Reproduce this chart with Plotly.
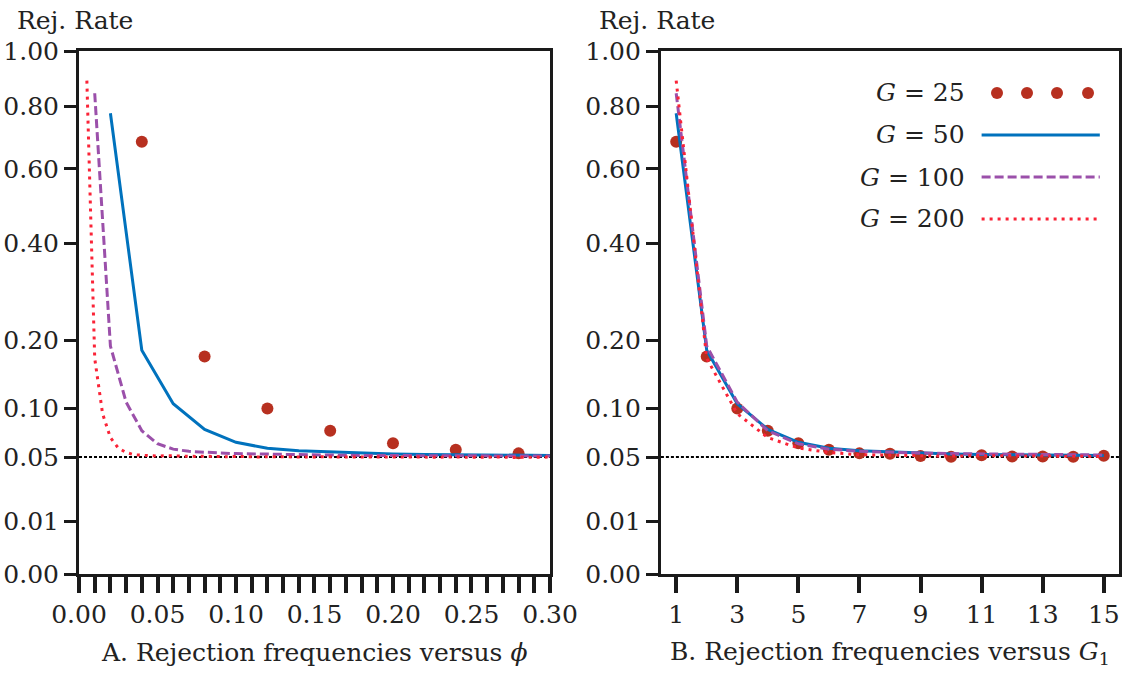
import numpy as np
import plotly.graph_objects as go

# ---------------- data (rejection rates by G1, for each G) ----------------
G_VALUES = [25, 50, 100, 200]
NOMINAL = 0.05

REJ_G25 = [0.683, 0.173, 0.100, 0.075, 0.0625, 0.0565, 0.0532, 0.0528, 0.0508, 0.0503,
           0.0515, 0.0505, 0.0505, 0.0502, 0.0512]
REJ_G50 = [0.776, 0.183, 0.106, 0.0765, 0.0634, 0.0578, 0.0556, 0.0545, 0.0536, 0.0527,
           0.0522, 0.0519, 0.0517, 0.0515, 0.0514]
REJ_G100 = [0.845, 0.190, 0.108, 0.075, 0.062, 0.057, 0.055, 0.054, 0.0535, 0.053,
            0.0527, 0.0525, 0.0522, 0.052, 0.0518, 0.0516, 0.0515, 0.0514, 0.0513, 0.0512,
            0.0511, 0.0511, 0.051, 0.051, 0.051, 0.0509, 0.0509, 0.0508, 0.0508, 0.0508]
REJ_G200 = [0.890, 0.170, 0.094, 0.068, 0.058, 0.054, 0.052, 0.0515, 0.051, 0.0508,
            0.0512, 0.0509, 0.0506, 0.0508, 0.0505, 0.0507, 0.0504, 0.0506, 0.0503, 0.0505,
            0.0502, 0.0504, 0.0501, 0.0503, 0.0502, 0.0500, 0.0503, 0.0501, 0.0502, 0.0500,
            0.0502, 0.0499, 0.0501, 0.0500, 0.0502, 0.0499, 0.0501, 0.0500, 0.0501, 0.0498,
            0.0500, 0.0501, 0.0499, 0.0500, 0.0498, 0.0500, 0.0499, 0.0501, 0.0498, 0.0499,
            0.0500, 0.0497, 0.0499, 0.0500, 0.0497, 0.0496, 0.0498, 0.0499, 0.0498, 0.0500]

Y_TICKS = [0.0, 0.01, 0.05, 0.10, 0.20, 0.40, 0.60, 0.80, 1.00]
Y_TICK_LABELS = ["0.00", "0.01", "0.05", "0.10", "0.20", "0.40", "0.60", "0.80", "1.00"]
PHI_TICKS = [0.0, 0.05, 0.10, 0.15, 0.20, 0.25, 0.30]
PHI_TICK_LABELS = ["0.00", "0.05", "0.10", "0.15", "0.20", "0.25", "0.30"]
G1_TICKS = [1, 3, 5, 7, 9, 11, 13, 15]
G1_MAX_SHOWN = 15

SERIES = [REJ_G25, REJ_G50, REJ_G100, REJ_G200]
LABELS = ["<i>G</i> = 25", "<i>G</i> = 50", "<i>G</i> = 100", "<i>G</i> = 200"]

# ---------------- styles ----------------
FONT = "DejaVu Serif"
FS = 25
TXT = "#222222"
AX = "#1a1a1a"
DOT_C = "rgb(183,48,32)"
BLUE = "rgb(0,114,189)"
PURPLE = "rgb(155,80,170)"
RED = "rgb(250,35,55)"

styles = [
    dict(mode="markers", marker=dict(size=12, color=DOT_C)),
    dict(mode="lines", line=dict(color=BLUE, width=3)),
    dict(mode="lines", line=dict(color=PURPLE, width=3, dash="9px,4px")),
    dict(mode="lines", line=dict(color=RED, width=3, dash="3px,5px")),
]

fig = go.Figure()

for G, vals, st in zip(G_VALUES, SERIES, styles):
    g1 = np.arange(1, len(vals) + 1)
    v = np.array(vals)
    # panel A: versus phi = G1 / G
    fig.add_trace(go.Scatter(x=g1 / G, y=np.sqrt(v), xaxis="x", yaxis="y",
                             showlegend=False, hoverinfo="skip", **st))
for G, vals, st in zip(G_VALUES, SERIES, styles):
    g1 = np.arange(1, len(vals) + 1)[:G1_MAX_SHOWN]
    v = np.array(vals)[:G1_MAX_SHOWN]
    # panel B: versus G1
    fig.add_trace(go.Scatter(x=g1, y=np.sqrt(v), xaxis="x2", yaxis="y2",
                             showlegend=False, hoverinfo="skip", **st))

yax = dict(range=[0, 1], tickmode="array", tickvals=list(np.sqrt(Y_TICKS)),
           ticktext=Y_TICK_LABELS, ticks="outside", ticklen=12, tickwidth=2.5,
           tickcolor=AX, showline=True, mirror=True, linewidth=3, linecolor=AX,
           showgrid=False, zeroline=False, automargin=False,
           tickfont=dict(family=FONT, size=FS, color=TXT))

fig.update_layout(
    width=1124, height=673,
    margin=dict(l=0, r=0, t=51, b=99, autoexpand=False),
    paper_bgcolor="white", plot_bgcolor="white",
    font=dict(family=FONT, size=FS, color=TXT),
    xaxis=dict(domain=[0.0703, 0.4893], range=[0, 0.30], anchor="y",
               tickmode="array", tickvals=PHI_TICKS, ticktext=PHI_TICK_LABELS,
               ticks="outside", ticklen=16, tickwidth=3.5, tickcolor=AX,
               minor=dict(dtick=0.01, tick0=0, ticks="outside", ticklen=16,
                          tickwidth=3.5, tickcolor=AX),
               showline=True, mirror=True, linewidth=3, linecolor=AX,
               showgrid=False, zeroline=False, automargin=False,
               tickfont=dict(family=FONT, size=FS, color=TXT)),
    xaxis2=dict(domain=[0.588, 0.9956], range=[0.5, 15.5], anchor="y2",
                tickmode="array", tickvals=G1_TICKS, ticktext=[str(t) for t in G1_TICKS],
                ticks="outside", ticklen=16, tickwidth=3.5, tickcolor=AX,
                showline=True, mirror=True, linewidth=3, linecolor=AX,
                showgrid=False, zeroline=False, automargin=False,
                tickfont=dict(family=FONT, size=FS, color=TXT)),
    yaxis=dict(anchor="x", **yax),
    yaxis2=dict(anchor="x2", **yax),
)

shapes = []
for xr, yr in [("x domain", "y"), ("x2 domain", "y2")]:
    shapes.append(dict(type="line", xref=xr, yref=yr, x0=0, x1=1,
                       y0=float(np.sqrt(NOMINAL)), y1=float(np.sqrt(NOMINAL)),
                       line=dict(color="black", width=2, dash="3px,2px"), layer="below"))

# legend (custom, text left of key) in panel B
leg_y = [0.9197, 0.8394, 0.759, 0.6788]
annotations = []
for lab, yy in zip(LABELS, leg_y):
    annotations.append(dict(text=lab, xref="x2 domain", yref="y2 domain", x=0.668, y=yy,
                            xanchor="right", yanchor="middle", showarrow=False,
                            font=dict(family=FONT, size=FS, color=TXT)))
for xx in [0.7336, 0.7991, 0.8646, 0.9323]:
    shapes.append(dict(type="circle", xref="x2 domain", yref="y2 domain",
                       xsizemode="pixel", ysizemode="pixel", xanchor=xx, yanchor=leg_y[0],
                       x0=-6, x1=6, y0=-6, y1=6, fillcolor=DOT_C, line=dict(width=0)))
for yy, st in zip(leg_y[1:], styles[1:]):
    shapes.append(dict(type="line", xref="x2 domain", yref="y2 domain", x0=0.700, x1=0.958,
                       y0=yy, y1=yy, line=st["line"]))

# axis titles
annotations.append(dict(text="Rej. Rate", xref="paper", yref="paper", x=0.0134, y=1.059,
                        xanchor="left", yanchor="middle", showarrow=False,
                        font=dict(family=FONT, size=FS, color=TXT)))
annotations.append(dict(text="Rej. Rate", xref="paper", yref="paper", x=0.531, y=1.059,
                        xanchor="left", yanchor="middle", showarrow=False,
                        font=dict(family=FONT, size=FS, color=TXT)))
annotations.append(dict(text="A. Rejection frequencies versus <i>ϕ</i>", xref="x domain",
                        yref="paper", x=0.5, y=-0.151, xanchor="center", yanchor="middle",
                        showarrow=False, font=dict(family=FONT, size=FS, color=TXT)))
annotations.append(dict(text="B. Rejection frequencies versus <i>G</i><sub>1</sub>",
                        xref="x2 domain", yref="paper", x=0.5, y=-0.151, xanchor="center",
                        yanchor="middle", showarrow=False,
                        font=dict(family=FONT, size=FS, color=TXT)))

fig.update_layout(shapes=shapes, annotations=annotations)
fig.write_html("out.html")
